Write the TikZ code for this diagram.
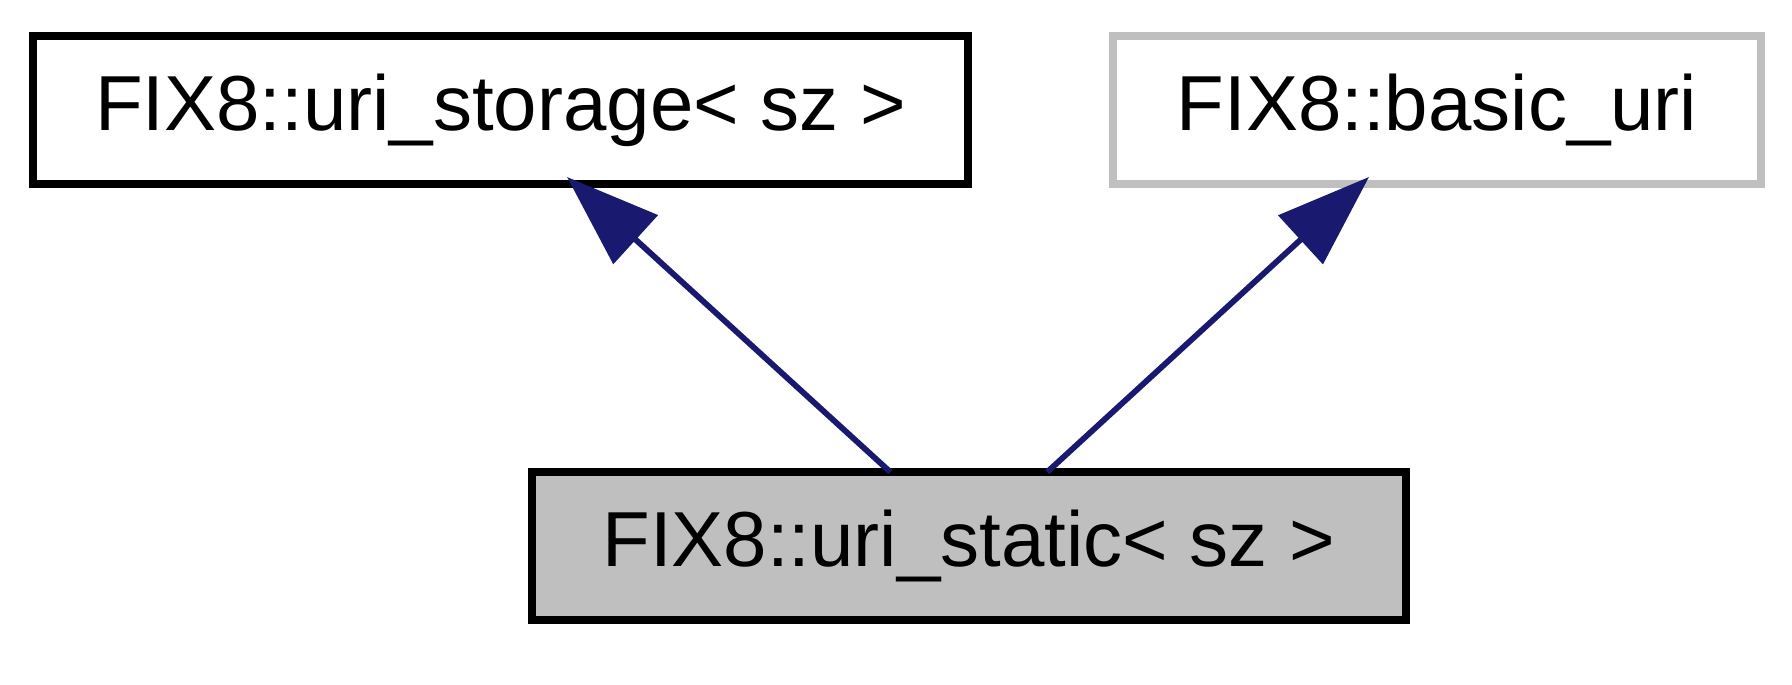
\documentclass[tikz,border=0pt]{standalone}
\usepackage{fontspec}
\setmainfont{Liberation Sans}
\usetikzlibrary{arrows.meta,calc,positioning}

\definecolor{edgeblue}{HTML}{191970}
\definecolor{nodegray}{HTML}{BFBFBF}

\begin{document}
\begin{tikzpicture}[
  font=\fontsize{22.2pt}{27pt}\selectfont,
  klass/.style={draw=black,line width=0.085cm,fill=white,outer sep=0pt,
    minimum height=1.48cm,align=center},
  extern/.style={klass,draw=nodegray},
  current/.style={klass,fill=nodegray},
  inherit/.style={-{Triangle[length=0.93cm,width=0.65cm]},line width=0.058cm,
    draw=edgeblue,fill=edgeblue}
]
  \useasboundingbox (0,0) rectangle (17.92,-6.85);

  \node[klass,minimum width=9.35cm] (storage) at (5.005,-1.10) {FIX8::uri\_storage< sz >};

  \node[extern,minimum width=6.48cm,right=1.45cm of storage] (basic) {FIX8::basic\_uri};

  \node[current,minimum width=8.74cm] (static)
    at ([yshift=-4.36cm]$(storage)!0.5!(basic)$) {FIX8::uri\_static< sz >};

  \draw[inherit] ([xshift=-0.785cm]static.north) -- ([xshift=0.665cm,yshift=0.07cm]storage.south);
  \draw[inherit] ([xshift=0.785cm]static.north) -- ([xshift=-0.68cm,yshift=0.07cm]basic.south);
\end{tikzpicture}
\end{document}
